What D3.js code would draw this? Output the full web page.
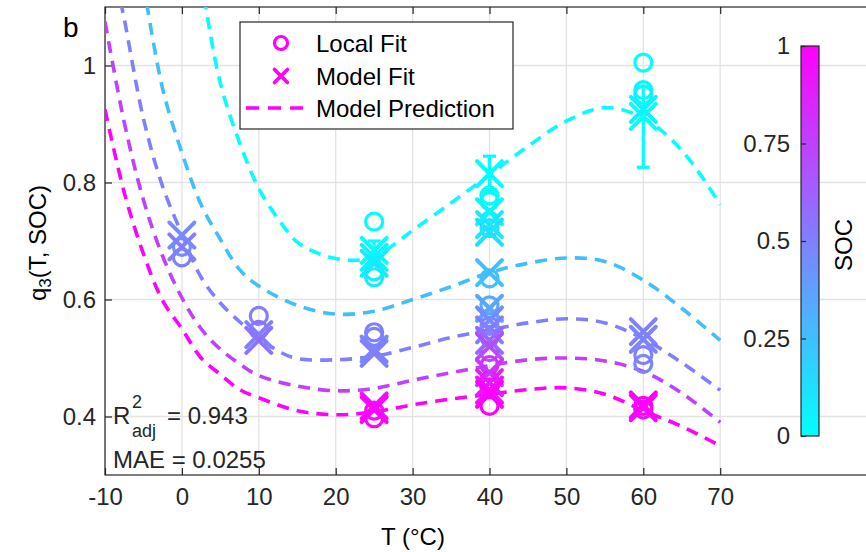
<!DOCTYPE html>
<html>
<head>
<meta charset="utf-8">
<script src="https://cdn.jsdelivr.net/npm/d3@7"></script>
<style>
  html, body { margin: 0; padding: 0; background: #fff; }
  svg { display: block; font-family: "Liberation Sans", Arial, sans-serif; }
</style>
</head>
<body>
<svg id="chart" width="866" height="552"></svg>
<script>
// ---- tick definitions ----
const xTicks = [-10, 0, 10, 20, 30, 40, 50, 60, 70];
const yTicks = [0.4, 0.6, 0.8, 1];
const yTickLabels = ["0.4", "0.6", "0.8", "1"];
const cbTicks = [0, 0.25, 0.5, 0.75, 1];
const cbTickLabels = ["0", "0.25", "0.5", "0.75", "1"];

// ---- model prediction curves: [T, q3] for each SOC ----
const predSOC = [0, 0.25, 0.5, 0.75, 1];
const predSOC0 = [[2.5, 1.15], [3.1, 1.10], [5, 0.97], [7.5, 0.868], [10, 0.79], [12.5, 0.738], [15, 0.698],
  [17.5, 0.68], [20, 0.67], [22.5, 0.667], [25, 0.673], [27.5, 0.693], [30, 0.718], [35, 0.765],
  [40, 0.813], [45, 0.862], [50, 0.905], [55, 0.928], [60, 0.91], [65, 0.855], [70, 0.762]];
const predSOC25 = [[-5, 1.14], [-2.5, 0.96], [0, 0.851], [2.5, 0.762], [5, 0.703], [7.5, 0.651], [10, 0.623],
  [15, 0.59], [20, 0.575], [25, 0.58], [30, 0.6], [35, 0.622], [40, 0.646], [45, 0.662], [50, 0.671],
  [55, 0.665], [60, 0.633], [65, 0.585], [70, 0.53]];
const predSOC50 = [[-8, 1.11], [-7.5, 1.08], [-5, 0.909], [-2.5, 0.793], [0, 0.712], [2.5, 0.638], [5, 0.594],
  [7.5, 0.562], [10, 0.535], [12.5, 0.512], [15, 0.499], [20, 0.497], [25, 0.503], [30, 0.518],
  [35, 0.535], [40, 0.548], [45, 0.56], [50, 0.567], [55, 0.56], [60, 0.533], [65, 0.492], [70, 0.445]];
const predSOC75 = [[-10, 1.075], [-7.5, 0.903], [-5, 0.77], [-2.5, 0.674], [0, 0.603], [2.5, 0.55], [5, 0.515],
  [7.5, 0.49], [10, 0.47], [15, 0.452], [20, 0.444], [25, 0.448], [30, 0.462], [35, 0.475], [40, 0.487],
  [45, 0.497], [50, 0.5], [55, 0.495], [60, 0.477], [65, 0.44], [70, 0.39]];
const predSOC100 = [[-10, 0.925], [-7.5, 0.783], [-5, 0.678], [-2.5, 0.598], [0, 0.55], [2.5, 0.5], [5, 0.472],
  [7.5, 0.446], [10, 0.432], [15, 0.41], [20, 0.403], [25, 0.408], [30, 0.42], [35, 0.43], [40, 0.438],
  [45, 0.446], [50, 0.449], [55, 0.438], [60, 0.41], [65, 0.383], [70, 0.35]];
const predCurves = [predSOC0, predSOC25, predSOC50, predSOC75, predSOC100];

// ---- local fits (circles): [T, SOC, q3] ----
const localFit = [
  [0, 0.45, 0.69], [0, 0.5, 0.672],
  [10, 0.5, 0.572], [10, 0.55, 0.548],
  [25, 0, 0.733], [25, 0.05, 0.648], [25, 0.08, 0.638],
  [25, 0.48, 0.536], [25, 0.5, 0.544],
  [25, 0.95, 0.41], [25, 1, 0.397],
  [40, 0, 0.778], [40, 0.03, 0.768], [40, 0.1, 0.735], [40, 0.12, 0.722], [40, 0.25, 0.636],
  [40, 0.35, 0.59], [40, 0.45, 0.568], [40, 0.5, 0.555], [40, 0.6, 0.535], [40, 0.7, 0.51],
  [40, 0.8, 0.488], [40, 0.9, 0.462], [40, 0.95, 0.45], [40, 1, 0.418],
  [60, 0, 1.005], [60, 0.03, 0.958], [60, 0.05, 0.95],
  [60, 0.48, 0.49], [60, 0.5, 0.505],
  [60, 0.95, 0.412], [60, 1, 0.418]
];

// ---- model fits (crosses): [T, SOC, q3] ----
const modelFit = [
  [0, 0.45, 0.71], [0, 0.5, 0.69],
  [10, 0.5, 0.54], [10, 0.55, 0.53],
  [25, 0, 0.684], [25, 0.05, 0.672], [25, 0.08, 0.662],
  [25, 0.48, 0.515], [25, 0.5, 0.508],
  [25, 0.95, 0.418], [25, 1, 0.412],
  [40, 0, 0.815], [40, 0.03, 0.75], [40, 0.1, 0.728], [40, 0.12, 0.715], [40, 0.25, 0.646],
  [40, 0.35, 0.585], [40, 0.45, 0.565], [40, 0.5, 0.548], [40, 0.6, 0.53], [40, 0.7, 0.52],
  [40, 0.8, 0.475], [40, 0.9, 0.458], [40, 0.95, 0.445], [40, 1, 0.438],
  [60, 0, 0.913], [60, 0.05, 0.925],
  [60, 0.48, 0.532], [60, 0.5, 0.545],
  [60, 0.95, 0.415], [60, 1, 0.42]
];

// ---- confidence bars on model fits: [T, SOC, low, high] ----
const fitBars = [[25, 0, 0.665, 0.70], [40, 0, 0.785, 0.845], [60, 0, 0.826, 0.965]];

const statsR2 = "0.943";
const statsMAE = "0.0255";

// ---- layout ----
const svg = d3.select("#chart");
const L = 105, R = 874, T = 7, B = 475;
const ink = "#262626";
const FS = 24;
const x = d3.scaleLinear().domain([-10, 90]).range([L, R]);
const y = d3.scaleLinear().domain([0.3, 1.1]).range([B, T]);
// "cool" colormap: cyan -> magenta
const cool = s => d3.rgb(255 * s, 255 * (1 - s), 255).formatHex();

svg.append("defs").append("clipPath").attr("id", "plotclip")
  .append("rect").attr("x", L).attr("y", T).attr("width", R - L).attr("height", B - T);

// grid
const grid = svg.append("g");
grid.selectAll("line.gx").data(xTicks).join("line")
  .attr("x1", d => x(d)).attr("x2", d => x(d)).attr("y1", T).attr("y2", B)
  .attr("stroke", "#e3e3e3").attr("stroke-width", 1.3);
grid.selectAll("line.gy").data(yTicks).join("line")
  .attr("x1", L).attr("x2", R).attr("y1", d => y(d)).attr("y2", d => y(d))
  .attr("stroke", "#e3e3e3").attr("stroke-width", 1.3);

// axes (ticks point inward)
const axB = svg.append("g").attr("transform", `translate(0,${B})`)
  .call(d3.axisBottom(x).tickValues(xTicks).tickSizeInner(-7).tickSizeOuter(0).tickPadding(13).tickFormat(d3.format("d")));
const axT = svg.append("g").attr("transform", `translate(0,${T})`)
  .call(d3.axisTop(x).tickValues(xTicks).tickSizeInner(-7).tickSizeOuter(0).tickFormat(""));
const axL = svg.append("g").attr("transform", `translate(${L},0)`)
  .call(d3.axisLeft(y).tickValues(yTicks).tickSizeInner(-7).tickSizeOuter(0).tickPadding(9)
    .tickFormat((d, i) => yTickLabels[i]));
const axR = svg.append("g").attr("transform", `translate(${R},0)`)
  .call(d3.axisRight(y).tickValues(yTicks).tickSizeInner(-7).tickSizeOuter(0).tickFormat(""));
[axB, axT, axL, axR].forEach(g => {
  g.select(".domain").remove();
  g.selectAll("line").attr("stroke", ink).attr("stroke-width", 1.2);
  g.selectAll("text").attr("fill", ink).attr("font-size", FS).attr("font-family", "Liberation Sans, Arial, sans-serif");
});
axB.selectAll("text").text(d => d < 0 ? "-" + Math.abs(d) : d);
// axes box
svg.append("rect").attr("x", L).attr("y", T).attr("width", R - L).attr("height", B - T)
  .attr("fill", "none").attr("stroke", ink).attr("stroke-width", 1.2);

// prediction curves
const line = d3.line().x(d => x(d[0])).y(d => y(d[1])).curve(d3.curveCatmullRom.alpha(0.5));
const curves = svg.append("g").attr("clip-path", "url(#plotclip)");
predCurves.forEach((c, i) => {
  curves.append("path").attr("d", line(c)).attr("fill", "none")
    .attr("stroke", cool(predSOC[i])).attr("stroke-width", 3.6)
    .attr("stroke-dasharray", "12 8");
});

// local fit circles
const marks = svg.append("g").attr("clip-path", "url(#plotclip)");
marks.selectAll("circle").data(localFit.slice().sort((a, b) => a[1] - b[1])).join("circle")
  .attr("cx", d => x(d[0])).attr("cy", d => y(d[2]))
  .attr("r", 8.5).attr("fill", "none").attr("stroke", d => cool(d[1])).attr("stroke-width", 3.2);

// confidence bars
fitBars.forEach(b => {
  const g = marks.append("g").attr("stroke", cool(b[1])).attr("stroke-width", 3.2);
  g.append("line").attr("x1", x(b[0])).attr("x2", x(b[0])).attr("y1", y(b[2])).attr("y2", y(b[3]));
  [b[2], b[3]].forEach(v => g.append("line")
    .attr("x1", x(b[0]) - 6.5).attr("x2", x(b[0]) + 6.5).attr("y1", y(v)).attr("y2", y(v)));
});

// model fit crosses
const cross = (g, cx, cy, h) => {
  g.append("line").attr("x1", cx - h).attr("y1", cy - h).attr("x2", cx + h).attr("y2", cy + h);
  g.append("line").attr("x1", cx - h).attr("y1", cy + h).attr("x2", cx + h).attr("y2", cy - h);
};
modelFit.slice().sort((a, b) => a[1] - b[1]).forEach(d => {
  const g = marks.append("g").attr("stroke", cool(d[1])).attr("stroke-width", 4).attr("stroke-linecap", "round");
  cross(g, x(d[0]), y(d[2]), 12.5);
});

// fit statistics
const stat = svg.append("g").attr("fill", ink).attr("font-size", FS);
stat.append("text").attr("x", 113).attr("y", 424).text("R");
stat.append("text").attr("x", 132).attr("y", 408).attr("font-size", 18).text("2");
stat.append("text").attr("x", 132).attr("y", 437).attr("font-size", 18).text("adj");
stat.append("text").attr("x", 167).attr("y", 424).text("= " + statsR2);
stat.append("text").attr("x", 113).attr("y", 468).text("MAE = " + statsMAE);

// legend
const lg = svg.append("g");
lg.append("rect").attr("x", 240).attr("y", 22).attr("width", 273).attr("height", 107)
  .attr("fill", "#fff").attr("stroke", ink).attr("stroke-width", 1.2);
const legColor = cool(1);
lg.append("circle").attr("cx", 281).attr("cy", 43).attr("r", 6.5).attr("fill", "none")
  .attr("stroke", legColor).attr("stroke-width", 3.2);
const lx = lg.append("g").attr("stroke", legColor).attr("stroke-width", 3.6).attr("stroke-linecap", "round");
cross(lx, 281, 76, 6.5);
lg.append("line").attr("x1", 246).attr("x2", 310).attr("y1", 108).attr("y2", 108)
  .attr("stroke", legColor).attr("stroke-width", 3.6).attr("stroke-dasharray", "13 9");
const legText = ["Local Fit", "Model Fit", "Model Prediction"];
lg.selectAll("text").data(legText).join("text")
  .attr("x", 316).attr("y", (d, i) => [43, 76, 108][i]).attr("dy", "0.36em")
  .attr("font-size", FS).attr("fill", "#000").text(d => d);

// colorbar
const cy = d3.scaleLinear().domain([0, 1]).range([436, 46]);
const grad = svg.select("defs").append("linearGradient").attr("id", "coolgrad")
  .attr("x1", 0).attr("y1", 1).attr("x2", 0).attr("y2", 0);
d3.range(0, 1.0001, 0.25).forEach(s => grad.append("stop").attr("offset", s).attr("stop-color", cool(s)));
svg.append("rect").attr("x", 801).attr("y", 46).attr("width", 18).attr("height", 390)
  .attr("fill", "#fff");
svg.append("rect").attr("x", 801).attr("y", 46).attr("width", 18).attr("height", 390)
  .attr("fill", "url(#coolgrad)").attr("stroke", ink).attr("stroke-width", 1.2);
const axC = svg.append("g").attr("transform", "translate(801,0)")
  .call(d3.axisLeft(cy).tickValues(cbTicks).tickSizeInner(-5).tickSizeOuter(0).tickPadding(11)
    .tickFormat((d, i) => cbTickLabels[i]));
axC.select(".domain").remove();
axC.selectAll("line").attr("stroke", ink).attr("stroke-width", 1.2);
axC.selectAll("text").attr("fill", ink).attr("font-size", FS).attr("font-family", "Liberation Sans, Arial, sans-serif");
svg.append("text").attr("transform", "translate(843,245) rotate(-90)").attr("text-anchor", "middle")
  .attr("dy", "0.36em").attr("font-size", FS).attr("fill", "#000").text("SOC");

// axis titles
svg.append("text").attr("x", 413).attr("y", 545).attr("text-anchor", "middle")
  .attr("font-size", FS).attr("fill", "#000").text("T (°C)");
const yl = svg.append("text").attr("transform", "translate(46,243) rotate(-90)").attr("text-anchor", "middle")
  .attr("font-size", FS).attr("fill", "#000");
yl.append("tspan").text("q");
yl.append("tspan").attr("font-size", 17).attr("dy", 5).text("3");
yl.append("tspan").attr("dy", -5).text("(T, SOC)");

// panel letter
svg.append("text").attr("x", 63).attr("y", 37).attr("font-size", 28).attr("fill", "#000").text("b");
</script>
</body>
</html>
